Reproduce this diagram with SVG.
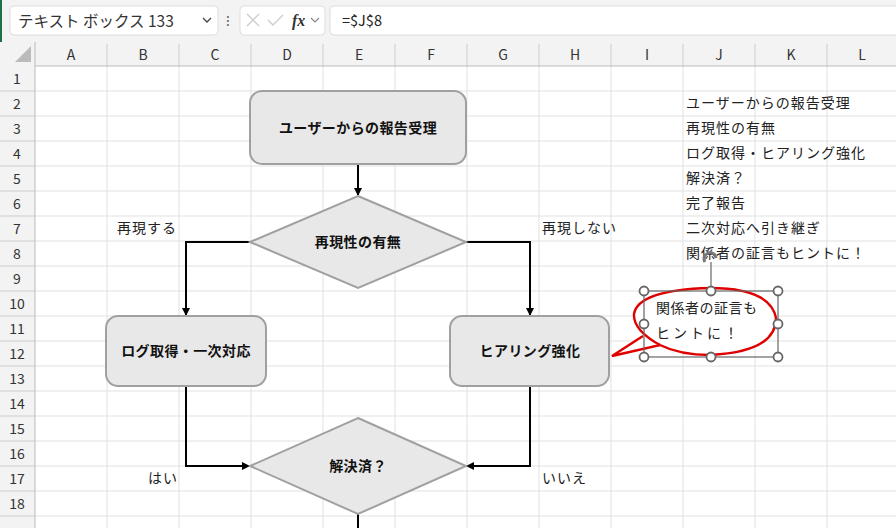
<svg xmlns="http://www.w3.org/2000/svg" width="896" height="528" viewBox="0 0 896 528">
<style>
text{font-family:"Noto Sans CJK JP","Noto Sans",sans-serif;}
.hd{font-size:14px;fill:#333;text-anchor:middle}
.grid{stroke:#e1e1e1;stroke-width:1}
.shape{fill:#e8e8e8;stroke:#a0a0a0;stroke-width:2}
.lbl{font-size:14px;font-weight:bold;fill:#111;text-anchor:middle;letter-spacing:0.4px}
.cell{font-size:14px;fill:#222;letter-spacing:1px}
.conn{fill:none;stroke:#000;stroke-width:2;marker-end:url(#ah)}
.hdl{fill:#fff;stroke:#666;stroke-width:1.8}
</style>
<defs>
<marker id="ah" markerWidth="8" markerHeight="8" refX="7" refY="4" orient="auto" markerUnits="userSpaceOnUse"><path d="M0,0 L8,4 L0,8 z" fill="#000"/></marker>
</defs>
<rect width="896" height="528" fill="#fff"/>
<rect width="896" height="42" fill="#f3f3f3"/>
<rect x="0" y="0" width="2" height="528" fill="#1e7145"/>
<rect x="10" y="6" width="208" height="29" rx="4" fill="#fff" stroke="#ddd"/>
<text x="18" y="27" style="font-size:15.5px;fill:#333">テキスト ボックス 133</text>
<path d="M203,18 l4,4 l4,-4" fill="none" stroke="#444" stroke-width="1.3"/>
<text x="228" y="26" style="font-size:14px;fill:#555" text-anchor="middle">⁝</text>
<rect x="240" y="6" width="85" height="29" rx="4" fill="#fff" stroke="#ddd"/>
<path d="M247,14 l12,12 M259,14 l-12,12 M268,20 l5,5 l10,-10" fill="none" stroke="#ccc" stroke-width="1.3"/>
<text x="292" y="26" style="font-size:16px;font-style:italic;font-weight:bold;font-family:'Liberation Serif',serif;fill:#333">fx</text>
<path d="M311,18 l4,4 l4,-4" fill="none" stroke="#888" stroke-width="1.2"/>
<rect x="330" y="6" width="570" height="29" rx="4" fill="#fff" stroke="#ddd"/>
<text x="342" y="26" style="font-size:14.5px;fill:#222">=$J$8</text>
<rect x="0" y="42" width="896" height="24" fill="#f3f3f3"/>
<rect x="0" y="66" width="35" height="462" fill="#f3f3f3"/>
<path d="M15,62 L31,62 L31,46 z" fill="#bbb"/>
<g class="grid">
<path d="M107,66V528M179,66V528M251,66V528M323,66V528M395,66V528M467,66V528M539,66V528M611,66V528M683,66V528M755,66V528M827,66V528"/>
<path d="M35,91H896M35,116H896M35,141H896M35,166H896M35,191H896M35,216H896M35,241H896M35,266H896M35,291H896M35,316H896M35,341H896M35,366H896M35,391H896M35,416H896M35,441H896M35,466H896M35,491H896M35,516H896"/>
<path d="M107,44V66M179,44V66M251,44V66M323,44V66M395,44V66M467,44V66M539,44V66M611,44V66M683,44V66M755,44V66M827,44V66" stroke="#ccc"/>
<path d="M0,91H35M0,116H35M0,141H35M0,166H35M0,191H35M0,216H35M0,241H35M0,266H35M0,291H35M0,316H35M0,341H35M0,366H35M0,391H35M0,416H35M0,441H35M0,466H35M0,491H35M0,516H35" stroke="#ccc"/>
</g>
<line x1="35" y1="66" x2="896" y2="66" stroke="#bbb"/>
<line x1="35" y1="42" x2="35" y2="528" stroke="#bbb"/>
<g class="hd">
<text x="71" y="60">A</text><text x="143" y="60">B</text><text x="215" y="60">C</text><text x="287" y="60">D</text><text x="359" y="60">E</text><text x="431" y="60">F</text><text x="503" y="60">G</text><text x="575" y="60">H</text><text x="647" y="60">I</text><text x="719" y="60">J</text><text x="791" y="60">K</text><text x="862" y="60">L</text>
<text x="17" y="84">1</text><text x="17" y="109">2</text><text x="17" y="134">3</text><text x="17" y="159">4</text><text x="17" y="184">5</text><text x="17" y="209">6</text><text x="17" y="234">7</text><text x="17" y="259">8</text><text x="17" y="284">9</text><text x="17" y="309">10</text><text x="17" y="334">11</text><text x="17" y="359">12</text><text x="17" y="384">13</text><text x="17" y="409">14</text><text x="17" y="434">15</text><text x="17" y="459">16</text><text x="17" y="484">17</text><text x="17" y="509">18</text>
</g>
<g class="cell">
<text x="686" y="108">ユーザーからの報告受理</text>
<text x="686" y="133">再現性の有無</text>
<text x="686" y="158">ログ取得・ヒアリング強化</text>
<text x="686" y="183">解決済？</text>
<text x="686" y="208">完了報告</text>
<text x="686" y="233">二次対応へ引き継ぎ</text>
<text x="686" y="258">関係者の証言もヒントに！</text>
<text x="117" y="233">再現する</text>
<text x="542" y="233">再現しない</text>
<text x="148" y="483">はい</text>
<text x="542" y="483">いいえ</text>
</g>
<g id="connectors">
<path class="conn" d="M358,164V195"/>
<path class="conn" d="M250,242H186V315"/>
<path class="conn" d="M466,242H530V315"/>
<path class="conn" d="M186,386V466H249"/>
<path class="conn" d="M530,386V466H467"/>
<path d="M358,514V528" stroke="#000" stroke-width="2"/>
</g>
<g id="n1"><rect class="shape" x="250" y="91" width="216" height="73" rx="12"/><text class="lbl" x="358" y="133">ユーザーからの報告受理</text></g>
<g id="n2"><polygon class="shape" points="358,196 466,242 358,288 250,242"/><text class="lbl" x="358" y="247">再現性の有無</text></g>
<g id="n3"><rect class="shape" x="106" y="316" width="160" height="70" rx="12"/><text class="lbl" x="186" y="356">ログ取得・一次対応</text></g>
<g id="n4"><rect class="shape" x="450" y="316" width="159" height="70" rx="12"/><text class="lbl" x="530" y="356">ヒアリング強化</text></g>
<g id="n5"><polygon class="shape" points="358,418 466,466 358,514 250,466"/><text class="lbl" x="358" y="471">解決済？</text></g>
<g id="callout">
<path d="M660,345 Q633,330 634,314 Q638,290 710,288 Q770,288 776,318 Q776,352 710,355 Q680,355 660,345 L612,356 L643,336" fill="#fff" stroke="#e00000" stroke-width="2.4"/>
<text x="656" y="313" style="font-size:14px;fill:#222;letter-spacing:0.5px">関係者の証言も</text>
<text x="656" y="338" style="font-size:14px;fill:#222;letter-spacing:3px">ヒントに！</text>
<rect x="644" y="291" width="134" height="66" fill="none" stroke="#666" stroke-width="1.2"/>
<line x1="711" y1="262" x2="711" y2="291" stroke="#666" stroke-width="1.2"/>
<path d="M705,262 A6,6 0 1 1 716,258" fill="none" stroke="#777" stroke-width="3"/>
<circle class="hdl" cx="644" cy="291" r="4.5"/><circle class="hdl" cx="711" cy="291" r="4.5"/><circle class="hdl" cx="778" cy="291" r="4.5"/>
<circle class="hdl" cx="644" cy="324" r="4.5"/><circle class="hdl" cx="778" cy="324" r="4.5"/>
<circle class="hdl" cx="644" cy="357" r="4.5"/><circle class="hdl" cx="711" cy="357" r="4.5"/><circle class="hdl" cx="778" cy="357" r="4.5"/>
</g>
</svg>
